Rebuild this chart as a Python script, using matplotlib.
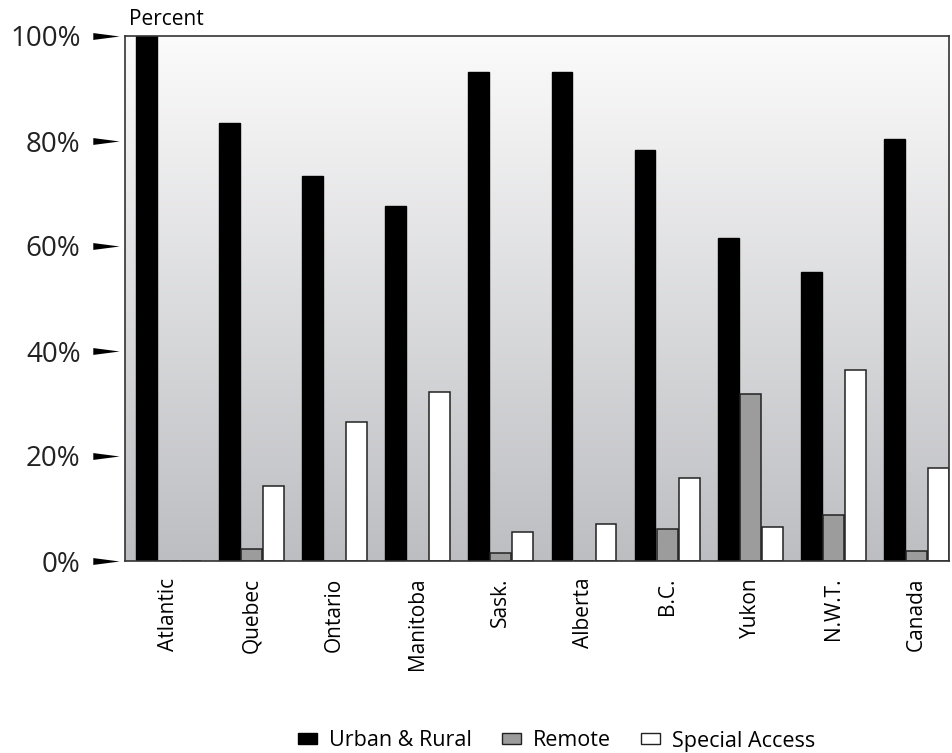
import numpy as np
import matplotlib.pyplot as plt
from matplotlib.path import Path
import matplotlib.transforms as mtransforms
from matplotlib.patches import Patch

plt.rcParams['font.family'] = ['Open Sans', 'DejaVu Sans']

regions = ["Atlantic", "Quebec", "Ontario", "Manitoba", "Sask.", "Alberta",
           "B.C.", "Yukon", "N.W.T.", "Canada"]
urban_rural = [100, 83.4, 73.3, 67.7, 93.1, 93.1, 78.2, 61.5, 55.0, 80.3]
remote = [0, 2.3, 0, 0, 1.5, 0, 6.1, 31.9, 8.8, 2.0]
special = [0, 14.2, 26.5, 32.1, 5.5, 7.0, 15.8, 6.5, 36.3, 17.7]
yticks = [0, 20, 40, 60, 80, 100]

fig = plt.figure(figsize=(9.53, 7.53), dpi=100)
ax = fig.add_axes([125/953, 1-561/753, (949-125)/953, (561-36)/753])

x = np.arange(len(regions))
w = 0.25
off = 0.265

# gradient background
grad = np.linspace(0, 1, 256).reshape(-1, 1)
ax.imshow(grad, cmap=plt.matplotlib.colors.LinearSegmentedColormap.from_list(
    "bg", ["#fbfbfb", "#bdbec2"]), aspect='auto', extent=[0, 1, 0, 1],
    transform=ax.transAxes, zorder=0)

ax.bar(x - off, urban_rural, w, color='black', edgecolor='black', lw=1, zorder=2,
       label='Urban & Rural')
ax.bar(x, remote, w, color='#9c9c9c', edgecolor='#222222', lw=1.1, zorder=2,
       label='Remote')
ax.bar(x + off, special, w, color='white', edgecolor='#222222', lw=1.1, zorder=2,
       label='Special Access')

ax.set_xlim(-0.52, 9.39)
ax.set_ylim(0, 100)

for s in ax.spines.values():
    s.set_color('#333333')
    s.set_linewidth(1.2)

ax.set_xticks(x)
ax.set_xticklabels(regions, rotation=90, fontsize=15, va='top')
ax.tick_params(axis='x', length=0, pad=12)

ax.set_yticks(yticks)
ax.set_yticklabels([f"{v}%" for v in yticks], fontsize=20, color='#222222')
ax.tick_params(axis='y', length=0, pad=32)

# arrow-shaped tick marks
arrow = Path([(-1, 0.26), (1, 0), (-1, -0.26), (-1, 0.26)],
             [Path.MOVETO, Path.LINETO, Path.LINETO, Path.CLOSEPOLY])
trans = mtransforms.blended_transform_factory(ax.transAxes, ax.transData)
ax.plot([-0.0225] * len(yticks), yticks, ls='none', marker=arrow, ms=19,
        color='black', mew=0, transform=trans, clip_on=False)

ax.text(0.005, 1.012, "Percent", transform=ax.transAxes, fontsize=15,
        ha='left', va='bottom')

handles = [Patch(facecolor='black', edgecolor='black'),
           Patch(facecolor='#9c9c9c', edgecolor='#222222'),
           Patch(facecolor='white', edgecolor='#222222')]
fig.legend(handles, ['Urban & Rural', 'Remote', 'Special Access'],
           loc='center', bbox_to_anchor=(557/953, 1-741/753), ncol=3,
           frameon=False, fontsize=15.5, handlelength=0.88, handleheight=0.42,
           columnspacing=1.4, handletextpad=0.56)

fig.savefig("out.png", dpi=100, facecolor='white')
